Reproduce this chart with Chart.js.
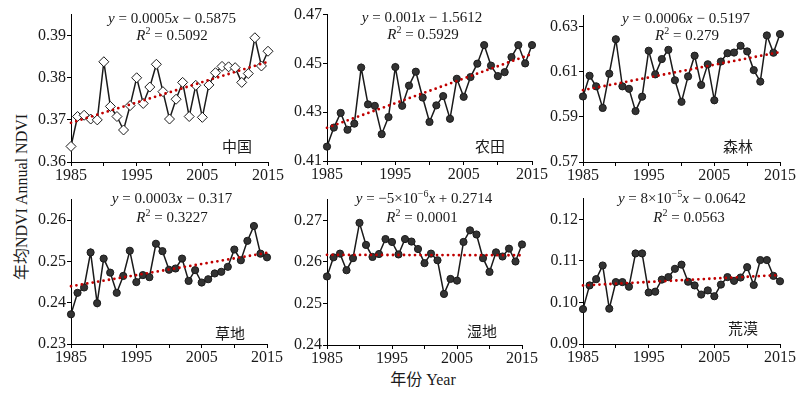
<!DOCTYPE html>
<html>
<head>
<meta charset="utf-8">
<script src="https://cdn.jsdelivr.net/npm/chart.js@4.4.0/dist/chart.umd.min.js"></script>
<style>
body { margin: 0; background: #fff; width: 800px; height: 397px; position: relative; overflow: hidden;
       font-family: "Liberation Serif", "Noto Sans CJK SC", serif; color: #1a1a1a; }
canvas { position: absolute; }
.txt { position: absolute; transform: translate(-50%, -50%); white-space: nowrap; font-size: 15px; line-height: 1; }
.txt sup { font-size: 10px; vertical-align: 6px; line-height: 0; }
.lab { position: absolute; transform: translate(-50%, -50%); font-size: 15px; font-family: "Noto Sans CJK SC", sans-serif; }
.ytitle { position: absolute; left: 20px; top: 197px; transform: translate(-50%, -50%) rotate(-90deg); white-space: nowrap; font-size: 16px; }
.xtitle { position: absolute; left: 423px; top: 378px; transform: translate(-50%, -50%); white-space: nowrap; font-size: 16px; }
</style>
</head>
<body>
<div class="ytitle"><span style="font-family:'Noto Sans CJK SC'">年均</span>NDVI Annual NDVI</div>
<div class="xtitle"><span style="font-family:'Noto Sans CJK SC'">年份</span> Year</div>
<script>
const years = [1985, 1986, 1987, 1988, 1989, 1990, 1991, 1992, 1993, 1994, 1995, 1996, 1997, 1998, 1999, 2000,
               2001, 2002, 2003, 2004, 2005, 2006, 2007, 2008, 2009, 2010, 2011, 2012, 2013, 2014, 2015];
const xTicks = [1985, 1990, 1995, 2000, 2005, 2010, 2015];
const xLabels = [1985, 1995, 2005, 2015];

// 中国
const chinaNdvi = [0.3637, 0.3708, 0.3711, 0.3702, 0.3700, 0.3838, 0.3732, 0.3708, 0.3676, 0.3734, 0.3800,
                   0.3739, 0.3778, 0.3832, 0.3767, 0.3702, 0.3749, 0.3789, 0.3708, 0.3782, 0.3706, 0.3783,
                   0.3812, 0.3827, 0.3826, 0.3824, 0.3789, 0.3810, 0.3895, 0.3828, 0.3863];
const chinaTrend = [0.3693, 0.3838];
const chinaTicks = [0.36, 0.37, 0.38, 0.39];

// 农田
const croplandNdvi = [0.4159, 0.4237, 0.4297, 0.4228, 0.4253, 0.4483, 0.4332, 0.4326, 0.4210, 0.4280, 0.4485,
                      0.4326, 0.4409, 0.4466, 0.4360, 0.4260, 0.4328, 0.4366, 0.4273, 0.4437, 0.4363, 0.4444,
                      0.4499, 0.4575, 0.4491, 0.4448, 0.4464, 0.4526, 0.4575, 0.4500, 0.4575];
const croplandTrend = [0.4236, 0.4539];
const croplandTicks = [0.41, 0.43, 0.45, 0.47];

// 森林
const forestNdvi = [0.5991, 0.6083, 0.6036, 0.5940, 0.6092, 0.6245, 0.6036, 0.6025, 0.5926, 0.5990, 0.6194,
                    0.6089, 0.6157, 0.6198, 0.6063, 0.5967, 0.6080, 0.6172, 0.6042, 0.6134, 0.5974, 0.6146,
                    0.6183, 0.6186, 0.6216, 0.6191, 0.6108, 0.6057, 0.6262, 0.6185, 0.6268];
const forestTrend = [0.6019, 0.6188];
const forestTicks = [0.57, 0.59, 0.61, 0.63];

// 草地
const grasslandNdvi = [0.2372, 0.2424, 0.2437, 0.2522, 0.2399, 0.2507, 0.2473, 0.2424, 0.2465, 0.2526, 0.2450,
                       0.2467, 0.2462, 0.2543, 0.2525, 0.2480, 0.2483, 0.2507, 0.2453, 0.2479, 0.2449, 0.2457,
                       0.2471, 0.2475, 0.2487, 0.2529, 0.2503, 0.2550, 0.2586, 0.2519, 0.2510];
const grasslandTrend = [0.2440, 0.2521];
const grasslandTicks = [0.23, 0.24, 0.25, 0.26];

// 湿地
const wetlandNdvi = [0.2565, 0.2611, 0.2620, 0.2580, 0.2609, 0.2694, 0.2641, 0.2612, 0.2619, 0.2655, 0.2648,
                     0.2618, 0.2655, 0.2649, 0.2631, 0.2597, 0.2620, 0.2604, 0.2523, 0.2559, 0.2555, 0.2648,
                     0.2676, 0.2666, 0.2609, 0.2576, 0.2623, 0.2613, 0.2632, 0.2601, 0.2642];
const wetlandTrend = [0.2617, 0.2616];
const wetlandTicks = [0.24, 0.25, 0.26, 0.27];

// 荒漠
const desertNdvi = [0.0984, 0.1041, 0.1056, 0.1089, 0.0985, 0.1049, 0.1049, 0.1038, 0.1118, 0.1118, 0.1024,
                    0.1026, 0.1055, 0.1061, 0.1081, 0.1091, 0.1050, 0.1041, 0.1019, 0.1029, 0.1015, 0.1043,
                    0.1061, 0.1052, 0.1060, 0.1085, 0.1042, 0.1102, 0.1102, 0.1064, 0.1051];
const desertTrend = [0.1041, 0.1066];
const desertTicks = [0.09, 0.10, 0.11, 0.12];

const panels = [
    { name: '中国', values: chinaNdvi, trend: chinaTrend, ticks: chinaTicks, min: 0.36, max: 0.395, diamond: true,
      rect: [71, 12, 268, 162], eq: '<i>y</i> = 0.0005<i>x</i> − 0.5875', r2: '0.5092',
      eqPos: [172, 18, 172, 35], labPos: [237, 145] },
    { name: '农田', values: croplandNdvi, trend: croplandTrend, ticks: croplandTicks, min: 0.41, max: 0.47,
      rect: [327, 12, 532, 161], eq: '<i>y</i> = 0.001<i>x</i> − 1.5612', r2: '0.5929',
      eqPos: [422, 17, 423, 34], labPos: [490, 145] },
    { name: '森林', values: forestNdvi, trend: forestTrend, ticks: forestTicks, min: 0.57, max: 0.635,
      rect: [583, 13, 780, 162], eq: '<i>y</i> = 0.0006<i>x</i> − 0.5197', r2: '0.279',
      eqPos: [686, 18, 687, 35], labPos: [738, 145] },
    { name: '草地', values: grasslandNdvi, trend: grasslandTrend, ticks: grasslandTicks, min: 0.23, max: 0.265,
      rect: [71, 197, 267, 344], eq: '<i>y</i> = 0.0003<i>x</i> − 0.317', r2: '0.3227',
      eqPos: [172, 198, 172, 217], labPos: [230, 332] },
    { name: '湿地', values: wetlandNdvi, trend: wetlandTrend, ticks: wetlandTicks, min: 0.24, max: 0.275,
      rect: [327, 197, 522, 345], eq: '<i>y</i> =  −5×10<sup>−6</sup><i>x</i> + 0.2714', r2: '0.0001',
      eqPos: [424, 198, 422, 217], labPos: [482, 330] },
    { name: '荒漠', values: desertNdvi, trend: desertTrend, ticks: desertTicks, min: 0.09, max: 0.125,
      rect: [583, 196, 780, 344], eq: '<i>y</i> = 8×10<sup>−5</sup><i>x</i> − 0.0642', r2: '0.0563',
      eqPos: [682, 198, 689, 217], labPos: [743, 327] }
];

const tickFont = { family: '"Liberation Serif", serif', size: 16 };
const padL = 50, padT = 8, padR = 22, padB = 28;

panels.forEach(p => {
    const cv = document.createElement('canvas');
    const w = p.rect[2] - p.rect[0] + padL + padR;
    const h = p.rect[3] - p.rect[1] + padT + padB;
    cv.width = w;
    cv.height = h;
    cv.style.left = (p.rect[0] - padL) + 'px';
    cv.style.top = (p.rect[1] - padT) + 'px';
    document.body.appendChild(cv);

    new Chart(cv.getContext('2d'), {
        type: 'line',
        data: {
            datasets: [{
                data: [{ x: years[0], y: p.trend[0] }, { x: years[years.length - 1], y: p.trend[1] }],
                borderColor: '#c00000',
                borderWidth: 2.8,
                borderDash: [0, 5.5],
                borderCapStyle: 'round',
                pointRadius: 0,
                clip: false
            }, {
                data: years.map((yr, i) => ({ x: yr, y: p.values[i] })),
                borderColor: '#1a1a1a',
                borderWidth: 1.5,
                pointStyle: p.diamond ? 'rectRot' : 'circle',
                pointRadius: p.diamond ? 5 : 3.6,
                pointBackgroundColor: p.diamond ? '#fff' : '#333',
                pointBorderColor: '#1a1a1a',
                pointBorderWidth: 1,
                clip: false
            }]
        },
        options: {
            responsive: false,
            animation: false,
            events: [],
            layout: { padding: { top: padT, right: padR, left: 0, bottom: 0 } },
            plugins: {
                legend: { display: false },
                tooltip: { enabled: false }
            },
            scales: {
                x: {
                    type: 'linear',
                    min: 1985,
                    max: 2015,
                    afterBuildTicks: s => { s.ticks = xTicks.map(v => ({ value: v })); },
                    afterFit: s => { s.height = padB; },
                    ticks: {
                        autoSkip: false,
                        maxRotation: 0,
                        padding: 0,
                        color: '#1a1a1a',
                        font: tickFont,
                        callback: v => xLabels.includes(v) ? String(v) : ''
                    },
                    grid: { drawOnChartArea: false, tickLength: 4, color: '#000' },
                    border: { color: '#000', width: 1 }
                },
                y: {
                    min: p.min,
                    max: p.max,
                    afterBuildTicks: s => { s.ticks = p.ticks.map(v => ({ value: v })); },
                    afterFit: s => { s.width = padL; },
                    ticks: {
                        padding: 1,
                        color: '#1a1a1a',
                        font: tickFont,
                        callback: v => v.toFixed(2)
                    },
                    grid: { drawOnChartArea: false, tickLength: 4, color: '#000' },
                    border: { color: '#000', width: 1 }
                }
            }
        }
    });

    const eq = document.createElement('div');
    eq.className = 'txt';
    eq.style.left = p.eqPos[0] + 'px';
    eq.style.top = p.eqPos[1] + 'px';
    eq.innerHTML = p.eq;
    document.body.appendChild(eq);

    const r2 = document.createElement('div');
    r2.className = 'txt';
    r2.style.left = p.eqPos[2] + 'px';
    r2.style.top = p.eqPos[3] + 'px';
    r2.innerHTML = '<i>R</i><sup>2</sup> = ' + p.r2;
    document.body.appendChild(r2);

    const lab = document.createElement('div');
    lab.className = 'lab';
    lab.style.left = p.labPos[0] + 'px';
    lab.style.top = p.labPos[1] + 'px';
    lab.textContent = p.name;
    document.body.appendChild(lab);
});
</script>
</body>
</html>
